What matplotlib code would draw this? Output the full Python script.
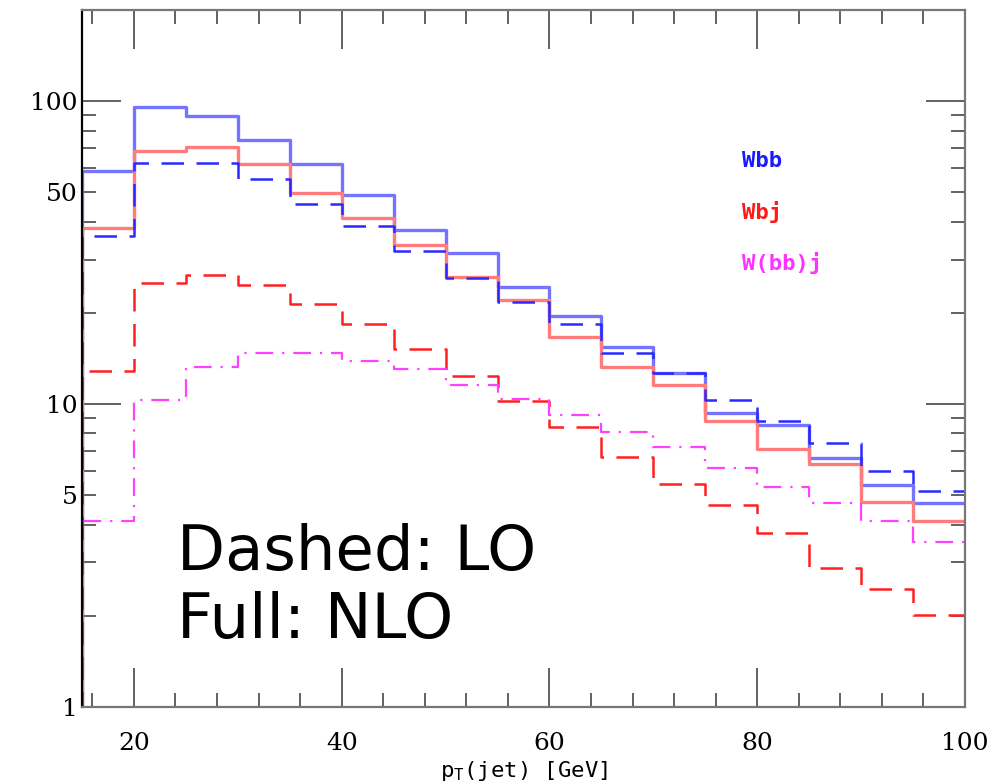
import numpy as np
import matplotlib
matplotlib.use("Agg")
import matplotlib.pyplot as plt
from matplotlib.ticker import FixedLocator, MultipleLocator, FuncFormatter

# ---------------------------
# DATA
# ---------------------------

bin_edges = [15, 20, 25, 30, 35, 40, 45, 50, 55, 60, 65, 70, 75, 80, 85, 90, 95, 100]

wbb_nlo = [58.7, 95.6, 89.2, 74.3, 62.0, 48.9, 37.5, 31.5, 24.3, 19.5, 15.4, 12.7, 9.34, 8.53, 6.64, 5.40, 4.71]
wbj_nlo = [38.1, 68.4, 70.5, 62.0, 49.7, 41.1, 33.5, 26.2, 22.0, 16.6, 13.3, 11.6, 8.79, 7.10, 6.34, 4.75, 4.11]
wbb_lo = [35.8, 62.4, 62.4, 55.3, 45.9, 38.7, 32.0, 26.0, 21.7, 18.4, 14.7, 12.7, 10.3, 8.79, 7.43, 6.01, 5.16]
wbj_lo = [12.9, 25.1, 26.7, 24.7, 21.4, 18.4, 15.2, 12.4, 10.2, 8.4, 6.68, 5.44, 4.64, 3.75, 2.87, 2.45, 2.01]
wbbj_lo = [4.11, 10.3, 13.3, 14.7, 14.7, 13.9, 13.1, 11.6, 10.4, 9.2, 8.1, 7.21, 6.15, 5.32, 4.71, 4.11, 3.50]

labels = ["Wbb", "Wbj", "W(bb)j"]
label_colors = ["#1a1aff", "#ff1a1a", "#ff33ff"]

y_labels = {1: "1", 5: "5", 10: "10", 50: "50", 100: "100"}

# ---------------------------
# HELPERS
# ---------------------------

def histo(ax, edges, vals, **kw):
    """Histogram step, with the rising edge from the bottom at the first bin."""
    x = np.r_[edges[0], edges]
    y = np.r_[0.5, vals, vals[-1]]
    ax.plot(x, y, drawstyle="steps-post", **kw)

# ---------------------------
# PLOT
# ---------------------------

fig = plt.figure(figsize=(10.02, 7.83), dpi=100)
ax = fig.add_axes([82 / 1002, 1 - 707 / 783, (965 - 82) / 1002, (707 - 10) / 783])

histo(ax, bin_edges, wbb_nlo, color="#7474ff", lw=2.4)
histo(ax, bin_edges, wbj_nlo, color="#ff7c7c", lw=2.4)
histo(ax, bin_edges, wbb_lo, color="#2a2aff", lw=1.8, dashes=(9, 5))
histo(ax, bin_edges, wbj_lo, color="#ff2020", lw=1.8, dashes=(9, 5))
histo(ax, bin_edges, wbbj_lo, color="#ff40ff", lw=1.6, dashes=(8, 4, 1, 4))

ax.set_yscale("log")
ax.set_xlim(15, 100)
ax.set_ylim(1, 200)

# ticks
ax.xaxis.set_major_locator(FixedLocator([20, 40, 60, 80, 100]))
ax.xaxis.set_minor_locator(MultipleLocator(4))
ax.yaxis.set_major_locator(FixedLocator([1, 10, 100]))
minors = [m * d for d in (1, 10, 100) for m in range(2, 10) if m * d < 200]
ax.yaxis.set_minor_locator(FixedLocator(minors))
fmt = FuncFormatter(lambda v, p: y_labels.get(int(round(v)), ""))
ax.yaxis.set_major_formatter(fmt)
ax.yaxis.set_minor_formatter(fmt)

ax.tick_params(which="both", direction="in", top=True, right=True, color="#555555")
ax.tick_params(which="major", length=28, width=1.3)
ax.tick_params(which="minor", length=10, width=1.3)
ax.tick_params(which="both", labelsize=18)
ax.tick_params(axis="x", which="both", pad=18)
ax.tick_params(axis="y", which="both", pad=3)
for lab in (ax.get_xticklabels() + ax.get_yticklabels()
            + ax.yaxis.get_ticklabels(minor=True)):
    lab.set_family("DejaVu Serif")

for s in ax.spines.values():
    s.set_color("#777777")
    s.set_linewidth(1.6)
ax.spines["left"].set_color("black")

ax.set_xlabel(r"p$_\mathregular{T}$(jet) [GeV]", family="DejaVu Sans Mono",
              fontsize=16, labelpad=3)

# legend-like labels
for i, (txt, col) in enumerate(zip(labels, label_colors)):
    ax.text(0.748, 0.783 - i * 0.073, txt, transform=ax.transAxes, color=col,
            family="DejaVu Sans Mono", fontweight="bold", fontsize=16, va="center")

ax.text(0.108, 0.172, "Dashed: LO\nFull: NLO", transform=ax.transAxes,
        fontsize=45, family="DejaVu Sans", linespacing=1.18, va="center")

plt.savefig("out.png", dpi=100)
